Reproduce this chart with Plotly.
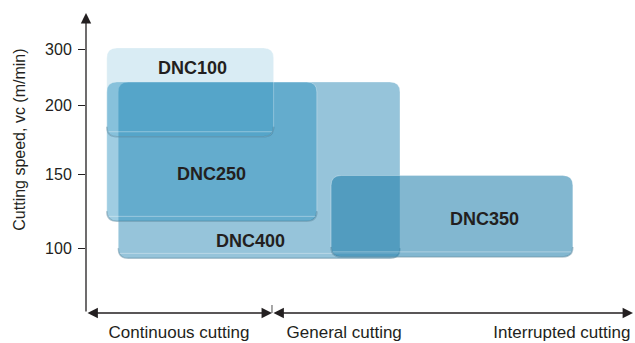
import numpy as np
import plotly.graph_objects as go

# ---- data ----
grades = ["DNC400", "DNC350", "DNC250", "DNC100"]          # drawing order (bottom -> top)
x_start = [5.9, 44.8, 3.8, 3.8]                             # cutting-condition scale (0-100)
x_end = [57.4, 89.0, 42.2, 34.3]
v_low = [93, 94, 118, 177]                                  # cutting speed (m/min)
v_high = [241, 149, 241, 302]
label_x = [30.0, 72.9, 23.0, 19.4]
label_v = [104.7, 119.6, 150, 266]
fills = ["rgba(45,137,181,0.5)", "rgba(28,124,170,0.55)",
         "rgba(37,141,189,0.44)", "rgba(0,128,182,0.15)"]

speed_ticks = [100, 150, 200, 300]
speed_tick_pos = [0, 74, 143, 199]      # non-uniform printed speed scale

cond_labels = ["Continuous cutting", "General cutting", "Interrupted cutting"]
cond_label_x = [17.0, 47.2, 87.0]
cond_divider = 34.0
y_title = "Cutting speed, vc (m/min)"


def vpos(v):
    """Map speed onto the chart's non-uniform vertical scale (with linear extrapolation)."""
    s, p = speed_ticks, speed_tick_pos
    if v < s[0]:
        return p[0] + (v - s[0]) * (p[1] - p[0]) / (s[1] - s[0])
    if v > s[-1]:
        return p[-1] + (v - s[-1]) * (p[-1] - p[-2]) / (s[-1] - s[-2])
    return float(np.interp(v, s, p))


X0, X1 = 0, 100
Y0, Y1 = -65, 235
RX, RY = 1.85, 10.0

fig = go.Figure()
shapes = []
annotations = []


def rounded(x0, x1, y0, y1):
    return (f"M {x0+RX},{y0} L {x1-RX},{y0} Q {x1},{y0} {x1},{y0+RY} "
            f"L {x1},{y1-RY} Q {x1},{y1} {x1-RX},{y1} L {x0+RX},{y1} "
            f"Q {x0},{y1} {x0},{y1-RY} L {x0},{y0+RY} Q {x0},{y0} {x0+RX},{y0} Z")


def bottom_edge(x0, x1, y0):
    return (f"M {x0},{y0+RY} Q {x0},{y0} {x0+RX},{y0} L {x1-RX},{y0} "
            f"Q {x1},{y0} {x1},{y0+RY}")


for g, xs, xe, vl, vh, fc in zip(grades, x_start, x_end, v_low, v_high, fills):
    y0, y1 = vpos(vl), vpos(vh)
    shapes.append(dict(type="path", xref="x", yref="y", path=rounded(xs, xe, y0, y1),
                       fillcolor=fc, line=dict(color="rgba(255,255,255,0.3)", width=1),
                       layer="above"))
    # darker bottom edge
    shapes.append(dict(type="path", xref="x", yref="y", path=bottom_edge(xs, xe, y0),
                       line=dict(color="rgba(20,80,110,0.3)", width=1.5), layer="above"))
    # highlight line near bottom
    shapes.append(dict(type="line", xref="x", yref="y", x0=xs + 0.3, x1=xe - 0.3,
                       y0=y0 + 5, y1=y0 + 5,
                       line=dict(color="rgba(255,255,255,0.35)", width=1), layer="above"))

for g, lx, lv in zip(grades, label_x, label_v):
    annotations.append(dict(x=lx, y=vpos(lv), xref="x", yref="y", text=f"<b>{g}</b>",
                            showarrow=False,
                            font=dict(family="Liberation Sans, Arial", size=18, color="#231f20"),
                            xanchor="center", yanchor="middle"))

axis_col = "#231f20"
# y-axis title (paper coordinates, left of the axis)
annotations.append(dict(x=-0.121, y=0.577, xref="paper", yref="paper", text=y_title,
                        textangle=-90, showarrow=False,
                        font=dict(family="Liberation Sans, Arial", size=16, color=axis_col),
                        xanchor="center", yanchor="middle"))
# vertical axis with arrow
annotations.append(dict(x=0, y=Y1, ax=0, ay=Y0, xref="x", yref="y", axref="x", ayref="y",
                        text="", showarrow=True, arrowhead=2, arrowsize=1.6, arrowwidth=1.3,
                        arrowcolor=axis_col, standoff=0, startstandoff=0))
# horizontal double arrows
for a, b in [(X0, cond_divider), (cond_divider, X1)]:
    annotations.append(dict(x=b, y=Y0, ax=a, ay=Y0, xref="x", yref="y", axref="x", ayref="y",
                            text="", showarrow=True, arrowhead=2, startarrowhead=2,
                            arrowside="end+start", arrowsize=1.6, startarrowsize=1.6,
                            arrowwidth=1.3, arrowcolor=axis_col, standoff=0, startstandoff=0))
shapes.append(dict(type="line", xref="x", yref="y", x0=cond_divider, x1=cond_divider,
                   y0=Y0 - 9, y1=Y0 + 8, line=dict(color="#8a8a8a", width=1.5)))

fig.update_layout(
    width=635, height=343,
    margin=dict(l=86, r=2, t=13, b=30),
    paper_bgcolor="white", plot_bgcolor="white",
    showlegend=False,
    shapes=shapes, annotations=annotations,
    font=dict(family="Liberation Sans, Arial", color=axis_col),
    xaxis=dict(range=[X0, X1], showgrid=False, zeroline=False, showline=False,
               tickvals=cond_label_x, ticktext=cond_labels, ticks="",
               tickfont=dict(size=17, color=axis_col), ticklabelstandoff=7),
    yaxis=dict(range=[Y0, Y1], showgrid=False, zeroline=False, showline=False,
               tickvals=[vpos(v) for v in speed_ticks], ticktext=[str(v) for v in speed_ticks],
               ticks="outside", ticklen=7, tickwidth=1, tickcolor=axis_col,
               tickfont=dict(size=16, color=axis_col), ticklabelstandoff=3),
)

fig.write_html("out.html", config={"displayModeBar": False},
               post_script="document.body.style.margin='0';")
